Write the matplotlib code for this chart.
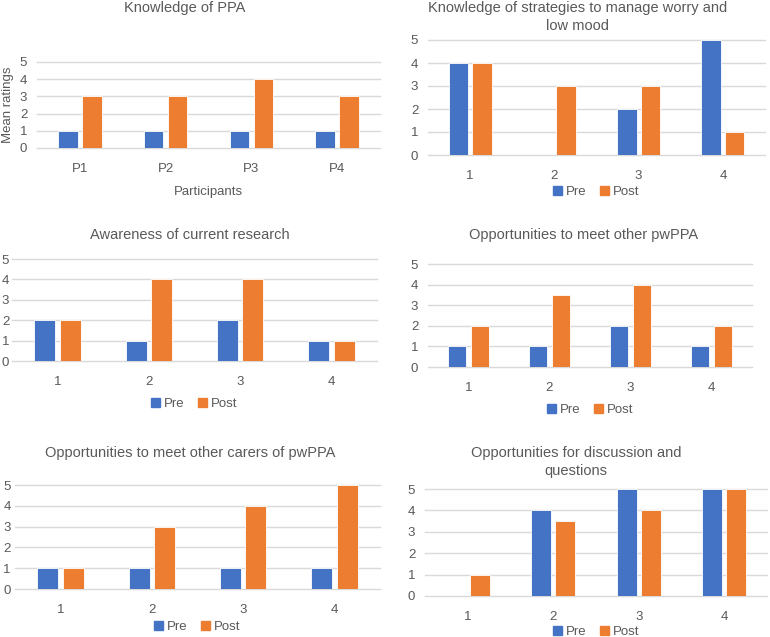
import matplotlib
matplotlib.use('Agg')
import matplotlib.pyplot as plt
from matplotlib.patches import Patch

# ---------------------------------------------------------------
# data (mean ratings, pre vs post, participants 1-4)
# ---------------------------------------------------------------
participants = [1, 2, 3, 4]

titles = [
    'Knowledge of PPA',
    'Knowledge of strategies to manage worry and\nlow mood',
    'Awareness of current research',
    'Opportunities to meet other pwPPA',
    'Opportunities to meet other carers of pwPPA',
    'Opportunities for discussion and\nquestions',
]

pre_knowledge_ppa = [1, 1, 1, 1]
post_knowledge_ppa = [3, 3, 4, 3]

pre_strategies = [4, 0, 2, 5]
post_strategies = [4, 3, 3, 1]

pre_research = [2, 1, 2, 1]
post_research = [2, 4, 4, 1]

pre_meet_pwppa = [1, 1, 2, 1]
post_meet_pwppa = [2, 3.5, 4, 2]

pre_meet_carers = [1, 1, 1, 1]
post_meet_carers = [1, 3, 4, 5]

pre_discussion = [0, 4, 5, 5]
post_discussion = [1, 3.5, 4, 5]

pre_series = [pre_knowledge_ppa, pre_strategies, pre_research,
              pre_meet_pwppa, pre_meet_carers, pre_discussion]
post_series = [post_knowledge_ppa, post_strategies, post_research,
               post_meet_pwppa, post_meet_carers, post_discussion]

# ---------------------------------------------------------------
# layout (pixel boxes of each plot area: x0, x1, y_top, y_bottom)
# ---------------------------------------------------------------
W, H = 770, 637
boxes = [
    (37, 380, 62, 148),
    (428, 765, 40, 155),
    (12, 377, 259, 361),
    (428, 752, 264, 367),
    (15, 380, 485, 589),
    (425, 767, 489, 596),
]
ypads = [7, 7, 2, 7, 3, 7]
title_pos = [(185, 8), (578, 17), (190, 235), (584, 235), (190, 453), (576, 462)]
legend_y = [None, 192, 404, 410, 627, 632]

BLUE = '#4472C4'
ORANGE = '#ED7D31'
GRID = '#D9D9D9'
TXT = '#595959'

plt.rcParams['font.family'] = ['Liberation Sans', 'DejaVu Sans']

fig = plt.figure(figsize=(W / 100, H / 100), dpi=100)

bw = 0.23
off = 0.14

for i in range(6):
    x0, x1, yt, yb = boxes[i]
    ax = fig.add_axes([x0 / W, 1 - yb / H, (x1 - x0) / W, (yb - yt) / H])
    xs = [p - off for p in participants]
    xs2 = [p + off for p in participants]
    ax.bar(xs, pre_series[i], width=bw, color=BLUE, edgecolor='white', linewidth=0.6, zorder=3)
    ax.bar(xs2, post_series[i], width=bw, color=ORANGE, edgecolor='white', linewidth=0.6, zorder=3)

    ax.set_xlim(0.5, 4.5)
    ax.set_ylim(0, 5)
    ax.set_yticks(range(6))
    ax.set_xticks(participants)
    if i == 0:
        ax.set_xticklabels(['P1', 'P2', 'P3', 'P4'])
    else:
        ax.set_xticklabels([str(p) for p in participants])
    for s in ax.spines.values():
        s.set_visible(False)
    ax.tick_params(axis='both', length=0, colors=TXT, labelsize=9.5)
    ax.tick_params(axis='y', pad=ypads[i])
    ax.tick_params(axis='x', pad=11)
    ax.yaxis.grid(True, color=GRID, linewidth=1.0, zorder=0)
    for gl in ax.get_ygridlines():
        gl.set_clip_on(False)
    ax.set_axisbelow(True)

    tx, ty = title_pos[i]
    fig.text(tx / W, 1 - ty / H, titles[i], ha='center', va='center',
             fontsize=10.5, color=TXT, linespacing=1.3)

    if legend_y[i] is not None:
        handles = [Patch(color=BLUE, label='Pre'), Patch(color=ORANGE, label='Post')]
        cx = (x0 + x1) / 2
        fig.legend(handles=handles, loc='center', ncol=2, frameon=False,
                   bbox_to_anchor=(cx / W, 1 - legend_y[i] / H),
                   fontsize=9.5, labelcolor=TXT, handlelength=0.7, handleheight=0.7,
                   handletextpad=0.3, columnspacing=1.0)
    else:
        ax.set_xlabel('Participants', color=TXT, fontsize=9.5, labelpad=8)
        ax.set_ylabel('Mean ratings', color=TXT, fontsize=9.5, labelpad=4)

fig.savefig('out.png', dpi=100, facecolor='white')
